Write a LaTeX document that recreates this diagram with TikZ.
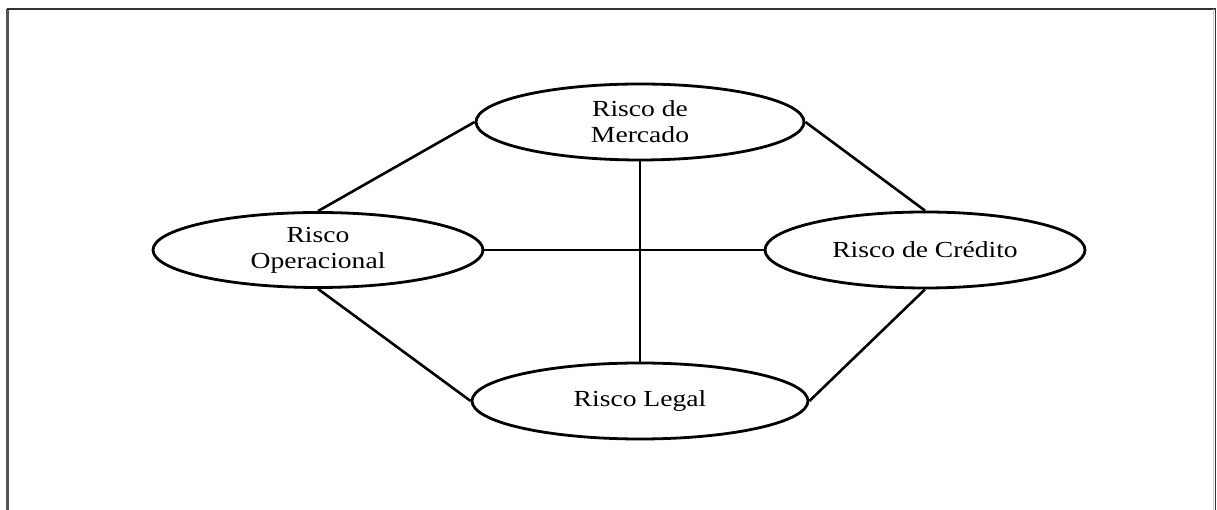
\documentclass[tikz,border=0pt]{standalone}
\usepackage{fontspec}
\setmainfont{Liberation Serif}[FakeStretch=1.2]
\usetikzlibrary{shapes.geometric}
\definecolor{framegray}{HTML}{555555}
\definecolor{framedark}{HTML}{333333}
\begin{document}
\begin{tikzpicture}[x=1pt, y=1pt,
    risk/.style={ellipse, draw, line width=2.8pt, inner sep=0pt, align=center,
                 font=\fontsize{23}{26}\selectfont},
    link/.style={line width=2.6pt}]
    \useasboundingbox (0,0) rectangle (1217,510);

    % Frame
    \draw[framegray, line width=2.5pt] (7.5,0) -- (7.5,501);
    \draw[framedark, line width=1.2pt] (6.5,501) -- (1215,501);
    \draw[black!20, line width=1pt] (1213.5,0) -- (1213.5,500.5);
    \draw[framedark, line width=1.5pt] (1215.5,0) -- (1215.5,501.5);

    % Risks
    \node[risk, minimum width=328, minimum height=76] (merc) at (640,388) {Risco de\\Mercado};
    \node[risk, minimum width=330, minimum height=75] (oper) at (318,260) {Risco\\Operacional};
    \node[risk, minimum width=320, minimum height=76] (cred) at (925,260) {Risco de Crédito};
    \node[risk, minimum width=336, minimum height=76] (legal) at (640,109) {Risco Legal};

    % Links
    \draw[link] (merc.south) -- (legal.north);
    \draw[link] (oper.east) -- (cred.west);
    \draw[link] (merc.west) -- (oper.north);
    \draw[link] (merc.east) -- (cred.north);
    \draw[link] (oper.south) -- (legal.west);
    \draw[link] (cred.south) -- (legal.east);
\end{tikzpicture}
\end{document}
